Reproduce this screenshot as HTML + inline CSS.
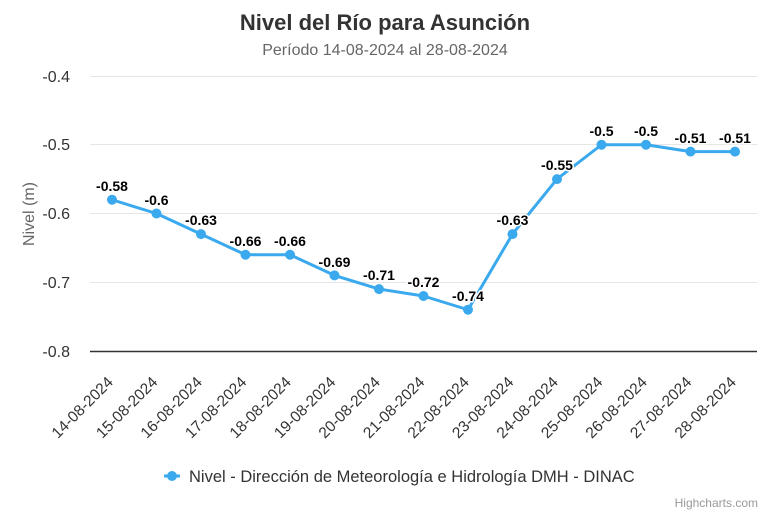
<!DOCTYPE html>
<html><head><meta charset="utf-8"><style>
body{margin:0;background:#fff}
svg{display:block;font-family:"Liberation Sans",Arial,sans-serif}
</style></head><body>
<svg width="770" height="513" viewBox="0 0 770 513">
<rect width="770" height="513" fill="#fff"/>
<text x="385" y="30" text-anchor="middle" font-size="22" font-weight="bold" fill="#333">Nivel del Río para Asunción</text>
<text x="385" y="55" text-anchor="middle" font-size="16" fill="#666">Período 14-08-2024 al 28-08-2024</text>
<g stroke="#e6e6e6" stroke-width="1">
<line x1="90" x2="757" y1="76.5" y2="76.5"/>
<line x1="90" x2="757" y1="144.5" y2="144.5"/>
<line x1="90" x2="757" y1="213.5" y2="213.5"/>
<line x1="90" x2="757" y1="282.5" y2="282.5"/>
</g>
<line x1="90" x2="757" y1="351.5" y2="351.5" stroke="#333" stroke-width="1.5"/>
<g font-size="16" fill="#333" text-anchor="end">
<text x="70" y="82">-0.4</text>
<text x="70" y="150">-0.5</text>
<text x="70" y="219">-0.6</text>
<text x="70" y="288">-0.7</text>
<text x="70" y="357">-0.8</text>
</g>
<text transform="translate(34,214) rotate(-90)" text-anchor="middle" font-size="16" fill="#666">Nivel (m)</text>
<g font-size="15.5" fill="#333" text-anchor="end">
<text transform="translate(114,383) rotate(-45)">14-08-2024</text>
<text transform="translate(158.5,383) rotate(-45)">15-08-2024</text>
<text transform="translate(203,383) rotate(-45)">16-08-2024</text>
<text transform="translate(247.5,383) rotate(-45)">17-08-2024</text>
<text transform="translate(292,383) rotate(-45)">18-08-2024</text>
<text transform="translate(336.5,383) rotate(-45)">19-08-2024</text>
<text transform="translate(381,383) rotate(-45)">20-08-2024</text>
<text transform="translate(425.5,383) rotate(-45)">21-08-2024</text>
<text transform="translate(470,383) rotate(-45)">22-08-2024</text>
<text transform="translate(514.5,383) rotate(-45)">23-08-2024</text>
<text transform="translate(559,383) rotate(-45)">24-08-2024</text>
<text transform="translate(603.5,383) rotate(-45)">25-08-2024</text>
<text transform="translate(648,383) rotate(-45)">26-08-2024</text>
<text transform="translate(692.5,383) rotate(-45)">27-08-2024</text>
<text transform="translate(737,383) rotate(-45)">28-08-2024</text>
</g>
<polyline fill="none" stroke="#3aa9ed" stroke-width="3" stroke-linejoin="round" points="112,199.75 156.5,213.5 201,234.1 245.5,254.75 290,254.75 334.5,275.4 379,289.1 423.5,296 468,309.75 512.5,234.1 557,179.1 601.5,144.75 646,144.75 690.5,151.6 735,151.6"/>
<g fill="#3aa9ed">
<circle cx="112" cy="199.75" r="5"/><circle cx="156.5" cy="213.5" r="5"/><circle cx="201" cy="234.1" r="5"/><circle cx="245.5" cy="254.75" r="5"/><circle cx="290" cy="254.75" r="5"/><circle cx="334.5" cy="275.4" r="5"/><circle cx="379" cy="289.1" r="5"/><circle cx="423.5" cy="296" r="5"/><circle cx="468" cy="309.75" r="5"/><circle cx="512.5" cy="234.1" r="5"/><circle cx="557" cy="179.1" r="5"/><circle cx="601.5" cy="144.75" r="5"/><circle cx="646" cy="144.75" r="5"/><circle cx="690.5" cy="151.6" r="5"/><circle cx="735" cy="151.6" r="5"/>
</g>
<g font-size="14" font-weight="bold" fill="#000" text-anchor="middle" stroke="#fff" stroke-width="3" paint-order="stroke" stroke-linejoin="round">
<text x="112" y="191">-0.58</text><text x="156.5" y="205">-0.6</text><text x="201" y="225">-0.63</text><text x="245.5" y="246">-0.66</text><text x="290" y="246">-0.66</text><text x="334.5" y="267">-0.69</text><text x="379" y="280">-0.71</text><text x="423.5" y="287">-0.72</text><text x="468" y="301">-0.74</text><text x="512.5" y="225">-0.63</text><text x="557" y="170">-0.55</text><text x="601.5" y="136">-0.5</text><text x="646" y="136">-0.5</text><text x="690.5" y="143">-0.51</text><text x="735" y="143">-0.51</text>
</g>
<line x1="164" x2="180" y1="476" y2="476" stroke="#3aa9ed" stroke-width="3"/>
<circle cx="172" cy="476" r="5" fill="#3aa9ed"/>
<text x="189" y="482" font-size="16.5" fill="#333">Nivel - Dirección de Meteorología e Hidrología DMH - DINAC</text>
<text x="758" y="507" text-anchor="end" font-size="12" fill="#999">Highcharts.com</text>
</svg>
</body></html>
